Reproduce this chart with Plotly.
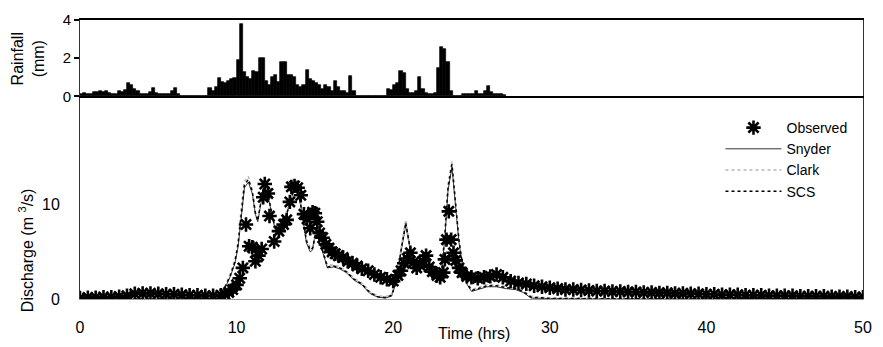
import plotly.graph_objects as go

# ---------------- data ----------------
rain_step = 0.2  # hr
rain_mm = [0.15, 0.2, 0.1, 0.1, 0.25, 0.25, 0.3, 0.25, 0.3, 0.2,
           0.1, 0.15, 0.3, 0.25, 0.35, 0.7, 0.6, 0.4, 0.3, 0.15,
           0.15, 0.15, 0.25, 0.45, 0.2, 0.15, 0.15, 0.15, 0.15, 0.3,
           0.45, 0.1, 0, 0, 0, 0, 0, 0, 0, 0,
           0, 0.45, 0.3, 0.5, 0.95, 0.75, 0.7, 0.8, 0.9, 0.95,
           1.9, 3.8, 1.3, 1.0, 0.9, 1.35, 1.3, 2.0, 2.0, 0.8,
           0.6, 1.0, 1.1, 0.75, 1.8, 1.8, 1.1, 1.1, 1.0, 0.6,
           0.5, 0.6, 1.4, 0.9, 0.8, 0.7, 0.6, 0.4, 0.6, 0.5,
           0.3, 0.8, 0.5, 0.3, 0.3, 0.2, 1.05, 0.3, 0, 0,
           0, 0, 0, 0, 0, 0, 0, 0, 0.4, 0.35,
           0.6, 0.7, 1.35, 1.2, 0.4, 0.2, 0.2, 0.3, 1.0, 0.4,
           0.2, 0.15, 0.15, 0.2, 1.5, 2.6, 2.5, 1.8, 0.3, 0,
           0, 0, 0.1, 0.1, 0.15, 0.15, 0.3, 0.15, 0.15, 0.3,
           0.55, 0.25, 0.15, 0.15, 0.1, 0.05]
rain_time = [round(i * rain_step, 2) for i in range(len(rain_mm))]

obs_time = [0.0, 0.5, 1.0, 1.5, 2.0, 2.5, 3.0, 3.5, 4.0, 4.5, 5.0, 5.5, 6.0, 6.5, 7.0, 7.5, 8.0, 8.5, 9.0,
            9.25, 9.5, 9.75, 10.0, 10.2, 10.4, 10.6, 10.8, 11.0, 11.2, 11.4, 11.6, 11.7, 11.8, 12.0, 12.1,
            12.4, 12.7, 13.0, 13.2, 13.4, 13.5, 13.7, 13.9, 14.1, 14.3, 14.5, 14.7, 14.85, 15.0, 15.15,
            15.3, 15.5, 15.7, 15.9, 16.1, 16.3, 16.5, 16.8, 17.1, 17.4, 17.7, 18.0, 18.4, 18.8, 19.2,
            19.6, 20.0, 20.3, 20.5, 20.7, 20.9, 21.1, 21.3, 21.5, 21.7, 21.9, 22.1, 22.3, 22.5, 22.8,
            23.0, 23.2, 23.3, 23.4, 23.55, 23.7, 23.85, 24.0, 24.2, 24.4, 24.7, 25.0, 25.4, 25.8, 26.2,
            26.6, 27.0, 27.5, 28.0, 28.5, 29.0, 29.5, 30.0, 30.5, 31.0, 31.5, 32.0, 32.5, 33.0, 33.5,
            34.0, 34.5, 35.0, 35.5, 36.0, 36.5, 37.0, 37.5, 38.0, 38.5, 39.0, 39.5, 40.0, 40.5, 41.0,
            41.5, 42.0, 42.5, 43.0, 43.5, 44.0, 44.5, 45.0, 45.5, 46.0, 46.5, 47.0, 47.5, 48.0, 48.5,
            49.0, 49.5, 50.0]
obs_q = [0.1, 0.15, 0.15, 0.2, 0.2, 0.25, 0.35, 0.55, 0.6, 0.6, 0.55, 0.5, 0.5, 0.45, 0.4, 0.4, 0.35, 0.35, 0.4,
         0.5, 0.7, 1.0, 1.5, 2.2, 3.3, 7.9, 5.6, 5.5, 4.0, 4.6, 5.3, 10.8, 12.2, 11.2, 8.8,
         6.1, 7.2, 7.9, 8.4, 10.3, 11.9, 12.0, 11.8, 11.0, 9.0, 8.5, 7.5, 9.2, 9.1, 8.2,
         7.0, 6.5, 5.8, 5.4, 5.0, 4.8, 4.6, 4.4, 4.0, 3.8, 3.5, 3.2, 3.0, 2.6, 2.3,
         2.1, 1.9, 2.5, 3.0, 3.8, 4.3, 4.9, 3.9, 3.3, 3.6, 4.0, 4.6, 3.4, 2.9, 2.5,
         2.3, 2.8, 4.2, 6.3, 9.3, 6.3, 4.9, 4.1, 3.3, 2.8, 2.4, 2.3, 2.2, 2.3, 2.4,
         2.6, 2.3, 1.9, 1.7, 1.6, 1.4, 1.3, 1.2, 1.1, 1.0, 1.0, 0.95, 0.9, 0.85, 0.85,
         0.8, 0.8, 0.75, 0.75, 0.7, 0.7, 0.65, 0.65, 0.6, 0.6, 0.55, 0.55, 0.5, 0.5, 0.45,
         0.45, 0.45, 0.4, 0.4, 0.4, 0.35, 0.35, 0.35, 0.35, 0.3, 0.3, 0.3, 0.3, 0.25, 0.25,
         0.25, 0.2, 0.2]

sim_time = [0, 8.5, 9.0, 9.3, 9.6, 9.9, 10.1, 10.3, 10.5, 10.75, 11.0, 11.2, 11.35, 11.6, 11.85,
            12.1, 12.4, 12.7, 13.0, 13.3, 13.6, 13.9, 14.2, 14.45, 14.7, 14.85, 15.1, 15.4, 15.8,
            16.2, 16.6, 17.0, 17.5, 18.0, 18.5, 19.0, 19.5, 19.9, 20.2, 20.5, 20.8, 21.0, 21.2,
            21.5, 21.8, 22.1, 22.4, 22.8, 23.1, 23.3, 23.5, 23.75, 24.0, 24.2, 24.4, 24.7, 25.0,
            25.4, 26.0, 26.6, 27.2, 27.8, 28.3, 28.8, 30, 40, 50]
snyder_q = [0.0, 0.0, 0.6, 1.3, 2.4, 3.8, 5.6, 9.0, 11.8, 12.4, 11.2, 9.0, 8.2, 10.6, 11.7,
            10.2, 7.8, 7.3, 7.9, 9.5, 11.3, 11.5, 9.0, 6.0, 5.0, 5.2, 7.3, 5.5, 3.3,
            3.4, 3.2, 2.8, 2.0, 1.5, 0.6, 0.2, 0.1, 0.3, 1.8, 5.0, 7.8, 6.0, 4.0,
            2.8, 3.5, 4.5, 3.3, 2.7, 3.0, 6.5, 11.5, 14.0, 9.5, 6.0, 3.8, 1.6, 0.8,
            1.0, 1.3, 1.3, 1.1, 1.0, 0.7, 0.1, 0.05, 0.0, 0.0]
clark_q = [0.0, 0.0, 0.7, 1.5, 2.7, 4.2, 6.2, 9.8, 12.5, 13.0, 11.6, 9.3, 8.5, 11.0, 12.0,
           10.5, 8.0, 7.5, 8.1, 9.8, 11.6, 11.8, 9.3, 6.4, 5.4, 5.6, 7.5, 5.8, 3.6,
           3.6, 3.4, 3.0, 2.2, 1.7, 0.8, 0.35, 0.25, 0.5, 2.0, 5.4, 8.4, 6.4, 4.2,
           3.0, 3.7, 4.7, 3.5, 2.9, 3.2, 7.0, 12.2, 14.6, 10.0, 6.4, 4.1, 1.9, 1.0,
           1.2, 1.5, 1.5, 1.3, 1.2, 0.9, 0.3, 0.1, 0.0, 0.0]
scs_q = [0.0, 0.0, 0.65, 1.4, 2.5, 4.0, 5.9, 9.4, 12.1, 12.7, 11.4, 9.1, 8.3, 10.8, 11.8,
         10.3, 7.9, 7.4, 8.0, 9.6, 11.4, 11.6, 9.1, 6.2, 5.2, 5.4, 7.4, 5.6, 3.4,
         3.5, 3.3, 2.9, 2.1, 1.6, 0.7, 0.25, 0.15, 0.4, 1.9, 5.2, 8.1, 6.2, 4.1,
         2.9, 3.6, 4.6, 3.4, 2.8, 3.1, 6.8, 11.8, 14.3, 9.8, 6.2, 3.9, 1.7, 0.9,
         1.1, 1.4, 1.4, 1.2, 1.1, 0.8, 0.2, 0.05, 0.0, 0.0]

x_ticks = [0, 10, 20, 30, 40, 50]
rain_ticks = [0, 2, 4]
q_ticks = [0, 10]

# ---------------- figure ----------------
FONT = "Liberation Sans, Arial, sans-serif"
fig = go.Figure()

fig.add_trace(go.Bar(x=rain_time, y=rain_mm, width=rain_step, offset=0,
                     marker=dict(color="black", line=dict(width=0.7, color="black")),
                     xaxis="x2", yaxis="y2", showlegend=False, hoverinfo="skip"))

fig.add_trace(go.Scatter(x=sim_time, y=snyder_q, mode="lines", name="Snyder",
                         line=dict(color="#333333", width=1), legendrank=2))
fig.add_trace(go.Scatter(x=sim_time, y=clark_q, mode="lines", name="Clark",
                         line=dict(color="#b5b5b5", width=1.5, dash="dot"), legendrank=3))
fig.add_trace(go.Scatter(x=sim_time, y=scs_q, mode="lines", name="SCS",
                         line=dict(color="black", width=1.5, dash="dot"), legendrank=4))
fig.add_trace(go.Scatter(x=obs_time, y=obs_q, mode="markers", name="Observed",
                         marker=dict(symbol="asterisk-open", size=12, color="black",
                                     line=dict(color="black", width=2.6)),
                         legendrank=1))

split = 0.7263
fig.update_layout(
    width=883, height=347,
    margin=dict(l=80, r=11, t=19, b=43),
    paper_bgcolor="white", plot_bgcolor="white",
    font=dict(family=FONT, size=16, color="black"),
    bargap=0,
    xaxis=dict(domain=[0, 1], range=[0, 50], tickvals=x_ticks, showgrid=False, zeroline=False,
               showline=True, linecolor="#9a9a9a", linewidth=1, anchor="y",
               ticks="outside", ticklen=14, tickcolor="rgba(0,0,0,0)",
               tickfont=dict(size=16)),
    yaxis=dict(domain=[0, split], range=[0, 21.5], tickvals=q_ticks, showgrid=False, zeroline=False,
               showline=True, mirror=True, linecolor="#333333", linewidth=1,
               ticks="outside", ticklen=16, tickcolor="rgba(0,0,0,0)",
               tickfont=dict(size=16)),
    xaxis2=dict(domain=[0, 1], range=[0, 50], matches="x", anchor="y2", showticklabels=False,
                showgrid=False, zeroline=False, showline=True, mirror=True,
                linecolor="black", linewidth=1.5),
    yaxis2=dict(domain=[split, 1], range=[0, 4], tickvals=rain_ticks, showgrid=False, zeroline=False,
                showline=True, mirror=True, linecolor="#333333", linewidth=1,
                ticks="outside", ticklen=5, tickcolor="black", tickwidth=1.5,
                tickfont=dict(size=15)),
    legend=dict(x=0.818, xanchor="left", y=0.50, yanchor="middle",
                font=dict(size=14), itemwidth=56, bgcolor="rgba(0,0,0,0)",
                tracegroupgap=0),
    annotations=[
        dict(text="Rainfall<br>(mm)", xref="paper", yref="paper", x=-0.066, y=0.86,
             xanchor="center", yanchor="middle", textangle=-90, showarrow=False,
             font=dict(size=16)),
        dict(text="Discharge (m <sup>3</sup>/s)", xref="paper", yref="paper", x=-0.069, y=0.175,
             xanchor="center", yanchor="middle", textangle=-90, showarrow=False,
             font=dict(size=16)),
        dict(text="Time (hrs)", xref="paper", yref="paper", x=0.503, y=-0.123,
             xanchor="center", yanchor="middle", showarrow=False, font=dict(size=16)),
    ],
)

fig.write_html("out.html")
